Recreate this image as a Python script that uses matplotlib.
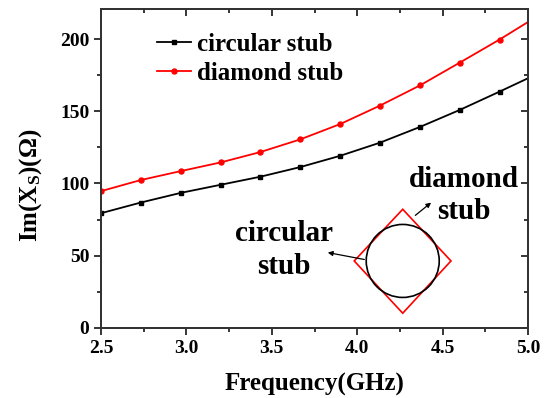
import matplotlib
matplotlib.use('Agg')
import matplotlib.pyplot as plt
from matplotlib.patches import Ellipse, Polygon
from matplotlib.ticker import MultipleLocator

# 数据
freq = [2.5, 2.733, 2.967, 3.2, 3.433, 3.667, 3.9, 4.133, 4.367, 4.6, 4.833, 5.0]
circular = [79.4, 86.8, 93.5, 99.1, 104.7, 111.4, 119.2, 128.3, 139.2, 151.0, 163.7, 173.0]
diamond = [94.7, 102.4, 108.6, 114.6, 121.8, 130.6, 141.2, 154.0, 168.0, 183.8, 199.8, 212.0]

plt.rcParams['font.family'] = ['Liberation Serif', 'DejaVu Serif']
plt.rcParams['font.weight'] = 'bold'
plt.rcParams['mathtext.fontset'] = 'custom'
plt.rcParams['mathtext.rm'] = 'Liberation Serif:bold'
plt.rcParams['mathtext.it'] = 'Liberation Serif:bold'
plt.rcParams['mathtext.bf'] = 'Liberation Serif:bold'

fig = plt.figure(figsize=(5.44, 3.98), dpi=100)
ax = fig.add_axes([0.1857, 0.1766, 0.785, 0.8008])

marks = list(range(len(freq) - 1))
ax.plot(freq, circular, color='black', lw=1.3, marker='s', ms=3.2,
        markevery=marks, label='circular stub')
ax.plot(freq, diamond, color='red', lw=1.3, marker='o', ms=3.6,
        markevery=marks, label='diamond stub')

ax.set_xlim(2.5, 5.0)
ax.set_ylim(0, 221)


def set_ticks(a):
    a.xaxis.set_major_locator(MultipleLocator(0.5))
    a.xaxis.set_minor_locator(MultipleLocator(0.25))
    a.yaxis.set_major_locator(MultipleLocator(50))
    a.yaxis.set_minor_locator(MultipleLocator(25))
    a.tick_params(which='major', length=5, width=1.1)
    a.tick_params(which='minor', length=3, width=1.1)


set_ticks(ax)
ax.tick_params(which='both', direction='out', top=False, right=False, labelsize=14)

# 顶部和右侧的内向刻度
ax_t = ax.twiny()
ax_t.set_xlim(ax.get_xlim())
ax_r = ax.twinx()
ax_r.set_ylim(ax.get_ylim())
set_ticks(ax_t)
set_ticks(ax_r)
ax_t.tick_params(which='both', direction='in', labeltop=False)
ax_r.tick_params(which='both', direction='in', labelright=False)

for a in (ax, ax_t, ax_r):
    for spine in a.spines.values():
        spine.set_linewidth(1.4)
        spine.set_color('#333333')

ax.set_xlabel('Frequency(GHz)', fontsize=18, fontweight='bold', labelpad=12)
ax.set_ylabel(r'Im(X$_{\rm S}$)(Ω)', fontsize=18, fontweight='bold')
ax.yaxis.set_label_coords(-0.134, 0.448)

ax.legend(loc='upper left', bbox_to_anchor=(0.131, 0.925), frameon=False,
          prop={'size': 18, 'weight': 'bold'}, handlelength=1.36, handletextpad=0.24,
          labelspacing=0.25, borderaxespad=0, borderpad=0)

# 示意图：菱形和圆形
tr = ax.transAxes
cx, cy = 0.7065, 0.2095
diam = Polygon([[0.5929, cy], [cx, 0.3716], [0.8195, cy], [cx, 0.0455]],
               closed=True, fill=False, edgecolor='red', lw=1.2, transform=tr)
ax.add_patch(diam)
r_px = 36.5
circ = Ellipse((cx, cy), r_px * 2 / 427.0, r_px * 2 / 318.7, fill=False,
               edgecolor='black', lw=1.2, transform=tr)
ax.add_patch(circ)

ax.text(0.849, 0.415, 'diamond\nstub', transform=tr, ha='center', va='center',
        fontsize=21, fontweight='bold', linespacing=1.28)
ax.text(0.429, 0.244, 'circular\nstub', transform=tr, ha='center', va='center',
        fontsize=21, fontweight='bold', linespacing=1.25)
ax.annotate('', xy=(0.778, 0.398), xytext=(0.731, 0.347), xycoords=tr,
            textcoords=tr, arrowprops=dict(arrowstyle='-|>', color='black',
                                           lw=0.9, mutation_scale=7))
ax.annotate('', xy=(0.5246, 0.2375), xytext=(0.623, 0.2124), xycoords=tr,
            textcoords=tr, arrowprops=dict(arrowstyle='-|>', color='black',
                                           lw=0.9, mutation_scale=7))

fig.savefig('out.png', dpi=100)
